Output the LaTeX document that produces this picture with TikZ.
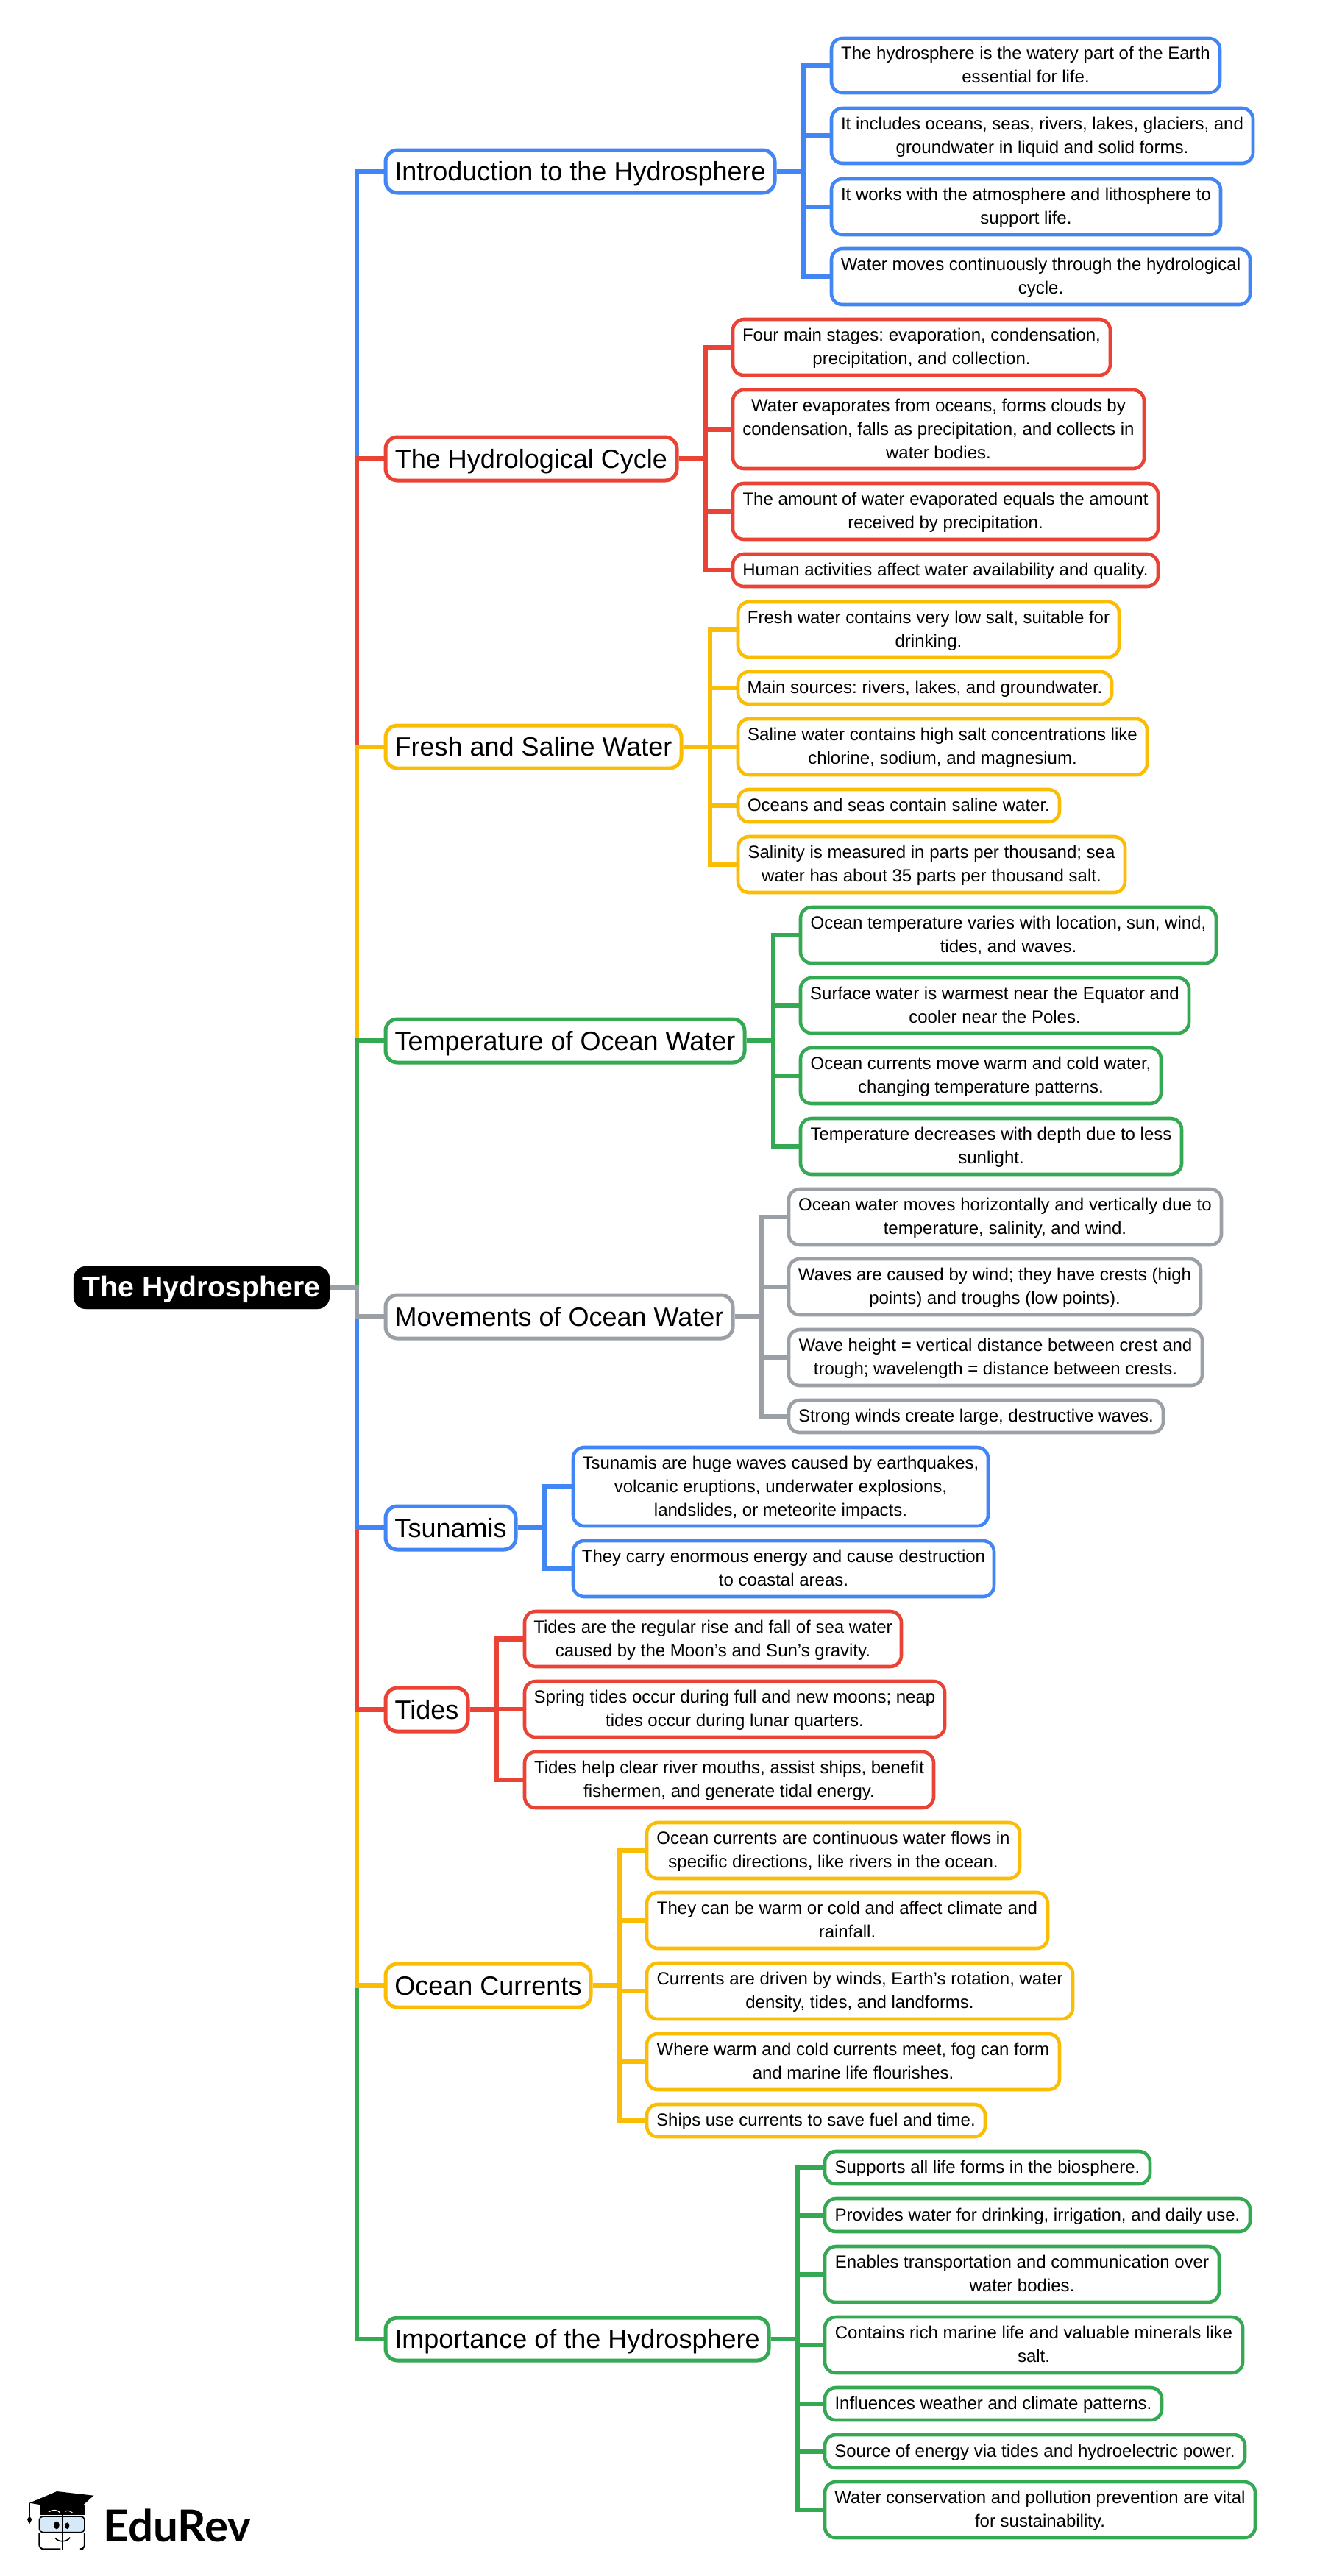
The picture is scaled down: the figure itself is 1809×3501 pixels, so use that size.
\documentclass[tikz,border=0pt]{standalone}
\usepackage{fontspec}
\setmainfont{Liberation Sans}
\newfontfamily\logofont{Lato}
\definecolor{cB}{HTML}{4285F4}
\definecolor{cR}{HTML}{EA4335}
\definecolor{cY}{HTML}{FBBC04}
\definecolor{cG}{HTML}{34A853}
\definecolor{cK}{HTML}{9AA0A6}
\definecolor{cLens}{HTML}{D6E9F8}
\tikzset{
  mapbox/.style={draw=#1, line width=4.6pt, rounded corners=15pt, fill=white, inner sep=0pt, align=center, text=black, rectangle},
  kid/.style={mapbox=#1, font=\def\st{\rule[-8.2pt]{0pt}{32pt}}\fontsize{24}{32}\selectfont\frenchspacing},
  branch/.style={mapbox=#1, line width=5pt, rounded corners=16pt, font=\def\st{\rule[-9.3pt]{0pt}{44pt}}\fontsize{36}{44}\selectfont\frenchspacing},
  rootbox/.style={draw=black, fill=black, rounded corners=17pt, inner sep=0pt, text=white, font=\def\st{\rule[-9.3pt]{0pt}{44pt}}\fontsize{39.2}{44}\bfseries\selectfont\frenchspacing},
  conn/.style={draw=#1, line width=6.4pt, line join=miter}
}
\newcommand{\bx}[7]{\node[#6, minimum width={(#4-#2)*1pt}, minimum height={(#5-#3)*1pt}] (#1) at ({(#2+#4)/2},{(#3+#5)/2}) {\st #7\st};}
\newcommand{\lnk}[4]{\draw[conn=#4] (#1.east) -- (#3 |- #1.east) |- (#2.west);}
\begin{document}
\begin{tikzpicture}[x=1pt,y=-1pt]
\useasboundingbox (0,0) rectangle (1809,3501);
\fill[white] (0,0) rectangle (1809,3501);
\bx{root}{100}{1721}{448}{1779}{rootbox}{The Hydrosphere}
\coordinate (trunk) at (485,0);
% Introduction
\bx{intro}{524}{204}{1053}{262}{branch=cB}{Introduction to the Hydrosphere}
\bx{ia}{1130}{52}{1658}{126}{kid=cB}{The hydrosphere is the watery part of the Earth\\essential for life.}
\bx{ib}{1130}{147}{1703}{222}{kid=cB}{It includes oceans, seas, rivers, lakes, glaciers, and\\groundwater in liquid and solid forms.}
\bx{ic}{1130}{243}{1659}{319}{kid=cB}{It works with the atmosphere and lithosphere to\\support life.}
\bx{id}{1130}{338}{1699}{414}{kid=cB}{Water moves continuously through the hydrological\\cycle.}
\coordinate (busI) at (1092,0);
% Hydrological
\bx{hydro}{524}{594}{920}{653}{branch=cR}{The Hydrological Cycle}
\bx{ha}{996}{434}{1509}{510}{kid=cR}{Four main stages: evaporation, condensation,\\precipitation, and collection.}
\bx{hb}{996}{530}{1555}{637}{kid=cR}{Water evaporates from oceans, forms clouds by\\condensation, falls as precipitation, and collects in\\water bodies.}
\bx{hc}{996}{657}{1574}{733}{kid=cR}{The amount of water evaporated equals the amount\\received by precipitation.}
\bx{hd}{996}{753}{1574}{797}{kid=cR}{Human activities affect water availability and quality.}
\coordinate (busH) at (959,0);
% Fresh
\bx{fresh}{524}{986}{926}{1044}{branch=cY}{Fresh and Saline Water}
\bx{fa}{1003}{818}{1521}{893}{kid=cY}{Fresh water contains very low salt, suitable for\\drinking.}
\bx{fb}{1003}{913}{1511}{957}{kid=cY}{Main sources: rivers, lakes, and groundwater.}
\bx{fc}{1003}{977}{1559}{1053}{kid=cY}{Saline water contains high salt concentrations like\\chlorine, sodium, and magnesium.}
\bx{fd}{1003}{1073}{1440}{1117}{kid=cY}{Oceans and seas contain saline water.}
\bx{fe}{1003}{1137}{1529}{1213}{kid=cY}{Salinity is measured in parts per thousand; sea\\water has about 35 parts per thousand salt.}
\coordinate (busF) at (965,0);
% Temperature
\bx{temp}{524}{1385}{1012}{1444}{branch=cG}{Temperature of Ocean Water}
\bx{ta}{1088}{1233}{1653}{1309}{kid=cG}{Ocean temperature varies with location, sun, wind,\\tides, and waves.}
\bx{tb}{1088}{1329}{1616}{1404}{kid=cG}{Surface water is warmest near the Equator and\\cooler near the Poles.}
\bx{tc}{1088}{1424}{1578}{1500}{kid=cG}{Ocean currents move warm and cold water,\\changing temperature patterns.}
\bx{td}{1088}{1520}{1606}{1596}{kid=cG}{Temperature decreases with depth due to less\\sunlight.}
\coordinate (busT) at (1051,0);
% Movements
\bx{move}{524}{1760}{996}{1819}{branch=cK}{Movements of Ocean Water}
\bx{ma}{1072}{1616}{1660}{1692}{kid=cK}{Ocean water moves horizontally and vertically due to\\temperature, salinity, and wind.}
\bx{mb}{1072}{1711}{1632}{1787}{kid=cK}{Waves are caused by wind; they have crests (high\\points) and troughs (low points).}
\bx{mc}{1072}{1807}{1634}{1883}{kid=cK}{Wave height = vertical distance between crest and\\trough; wavelength = distance between crests.}
\bx{md}{1072}{1903}{1581}{1947}{kid=cK}{Strong winds create large, destructive waves.}
\coordinate (busM) at (1035,0);
% Tsunamis
\bx{tsu}{524}{2047}{701}{2106}{branch=cB}{Tsunamis}
\bx{sa}{779}{1967}{1343}{2074}{kid=cB}{Tsunamis are huge waves caused by earthquakes,\\volcanic eruptions, underwater explosions,\\landslides, or meteorite impacts.}
\bx{sb}{779}{2094}{1351}{2170}{kid=cB}{They carry enormous energy and cause destruction\\to coastal areas.}
\coordinate (busS) at (740,0);
% Tides
\bx{tides}{524}{2294}{636}{2353}{branch=cR}{Tides}
\bx{da}{713}{2190}{1225}{2265}{kid=cR}{Tides are the regular rise and fall of sea water\\caused by the Moon's and Sun's gravity.}
\bx{db}{713}{2285}{1284}{2361}{kid=cR}{Spring tides occur during full and new moons; neap\\tides occur during lunar quarters.}
\bx{dc}{713}{2381}{1269}{2457}{kid=cR}{Tides help clear river mouths, assist ships, benefit\\fishermen, and generate tidal energy.}
\coordinate (busD) at (675,0);
% Currents
\bx{curr}{524}{2669}{803}{2728}{branch=cY}{Ocean Currents}
\bx{ca}{879}{2477}{1386}{2553}{kid=cY}{Ocean currents are continuous water flows in\\specific directions, like rivers in the ocean.}
\bx{cb}{879}{2572}{1424}{2648}{kid=cY}{They can be warm or cold and affect climate and\\rainfall.}
\bx{cc}{879}{2668}{1458}{2744}{kid=cY}{Currents are driven by winds, Earth's rotation, water\\density, tides, and landforms.}
\bx{cd}{879}{2764}{1440}{2840}{kid=cY}{Where warm and cold currents meet, fog can form\\and marine life flourishes.}
\bx{ce}{879}{2860}{1339}{2904}{kid=cY}{Ships use currents to save fuel and time.}
\coordinate (busC) at (842,0);
% Importance
\bx{imp}{524}{3150}{1045}{3208}{branch=cG}{Importance of the Hydrosphere}
\bx{pa}{1121}{2924}{1563}{2968}{kid=cG}{Supports all life forms in the biosphere.}
\bx{pb}{1121}{2988}{1699}{3033}{kid=cG}{Provides water for drinking, irrigation, and daily use.}
\bx{pc}{1121}{3053}{1657}{3129}{kid=cG}{Enables transportation and communication over\\water bodies.}
\bx{pd}{1121}{3149}{1689}{3225}{kid=cG}{Contains rich marine life and valuable minerals like\\salt.}
\bx{pe}{1121}{3245}{1579}{3289}{kid=cG}{Influences weather and climate patterns.}
\bx{pf}{1121}{3309}{1692}{3354}{kid=cG}{Source of energy via tides and hydroelectric power.}
\bx{pg}{1121}{3373}{1706}{3449}{kid=cG}{Water conservation and pollution prevention are vital\\for sustainability.}
\coordinate (busP) at (1084,0);
% connectors: root to branches, outermost first
\draw[conn=cB] (root.east) -- (trunk |- root.east) |- (intro.west);
\draw[conn=cG] (root.east) -- (trunk |- root.east) |- (imp.west);
\draw[conn=cR] (root.east) -- (trunk |- root.east) |- (hydro.west);
\draw[conn=cY] (root.east) -- (trunk |- root.east) |- (curr.west);
\draw[conn=cY] (root.east) -- (trunk |- root.east) |- (fresh.west);
\draw[conn=cR] (root.east) -- (trunk |- root.east) |- (tides.west);
\draw[conn=cG] (root.east) -- (trunk |- root.east) |- (temp.west);
\draw[conn=cB] (root.east) -- (trunk |- root.east) |- (tsu.west);
\draw[conn=cK] (root.east) -- (trunk |- root.east) |- (move.west);
% connectors: branches to leaves
\lnk{intro}{ia}{busI}{cB}\lnk{intro}{ib}{busI}{cB}\lnk{intro}{ic}{busI}{cB}\lnk{intro}{id}{busI}{cB}
\lnk{hydro}{ha}{busH}{cR}\lnk{hydro}{hb}{busH}{cR}\lnk{hydro}{hc}{busH}{cR}\lnk{hydro}{hd}{busH}{cR}
\lnk{fresh}{fa}{busF}{cY}\lnk{fresh}{fb}{busF}{cY}\lnk{fresh}{fc}{busF}{cY}\lnk{fresh}{fd}{busF}{cY}\lnk{fresh}{fe}{busF}{cY}
\lnk{temp}{ta}{busT}{cG}\lnk{temp}{tb}{busT}{cG}\lnk{temp}{tc}{busT}{cG}\lnk{temp}{td}{busT}{cG}
\lnk{move}{ma}{busM}{cK}\lnk{move}{mb}{busM}{cK}\lnk{move}{mc}{busM}{cK}\lnk{move}{md}{busM}{cK}
\lnk{tsu}{sa}{busS}{cB}\lnk{tsu}{sb}{busS}{cB}
\lnk{tides}{da}{busD}{cR}\lnk{tides}{db}{busD}{cR}\lnk{tides}{dc}{busD}{cR}
\lnk{curr}{ca}{busC}{cY}\lnk{curr}{cb}{busC}{cY}\lnk{curr}{cc}{busC}{cY}\lnk{curr}{cd}{busC}{cY}\lnk{curr}{ce}{busC}{cY}
\lnk{imp}{pa}{busP}{cG}\lnk{imp}{pb}{busP}{cG}\lnk{imp}{pc}{busP}{cG}\lnk{imp}{pd}{busP}{cG}\lnk{imp}{pe}{busP}{cG}\lnk{imp}{pf}{busP}{cG}\lnk{imp}{pg}{busP}{cG}
% logo
\begin{scope}[shift={(0,3350)},x=0.3333pt,y=-0.3333pt]
\fill[black] (163,165) -- (163,205) -- (345,205) -- (345,165) -- cycle;
\fill[black] (120,155) -- (232,108) -- (382,125) -- (312,188) -- cycle;
\draw[white,line width=1.2pt] (198,192) .. controls (215,180) and (235,182) .. (245,195);
\draw[white,line width=1.2pt] (265,190) .. controls (275,184) and (285,186) .. (296,196);
\draw[black,line width=1.6pt,rounded corners=5pt,fill=cLens] (160,210) rectangle (345,275);
\draw[black,line width=2pt,rounded corners=6pt] (247,343) -- (160,343) -- (160,278);
\draw[black,line width=2pt,rounded corners=6pt] (340,343) -- (345,343) -- (345,278);
\draw[black,line width=2pt] (255,205) -- (255,346);
\fill[black] (231,246) ellipse (11 and 16);
\fill[black] (274,248) ellipse (9 and 13);
\draw[black,line width=1.6pt] (225,298) .. controls (240,316) and (270,316) .. (286,296);
\draw[black,line width=1.2pt] (120,155) -- (120,210);
\fill[black] (120,208) -- (130,222) -- (120,242) -- (111,222) -- cycle;
\node[anchor=west,inner sep=0pt,font=\fontsize{60}{60}\logofont\bfseries\selectfont] (logo) at (422,248) {EduRev};
\end{scope}
\end{tikzpicture}
\end{document}
